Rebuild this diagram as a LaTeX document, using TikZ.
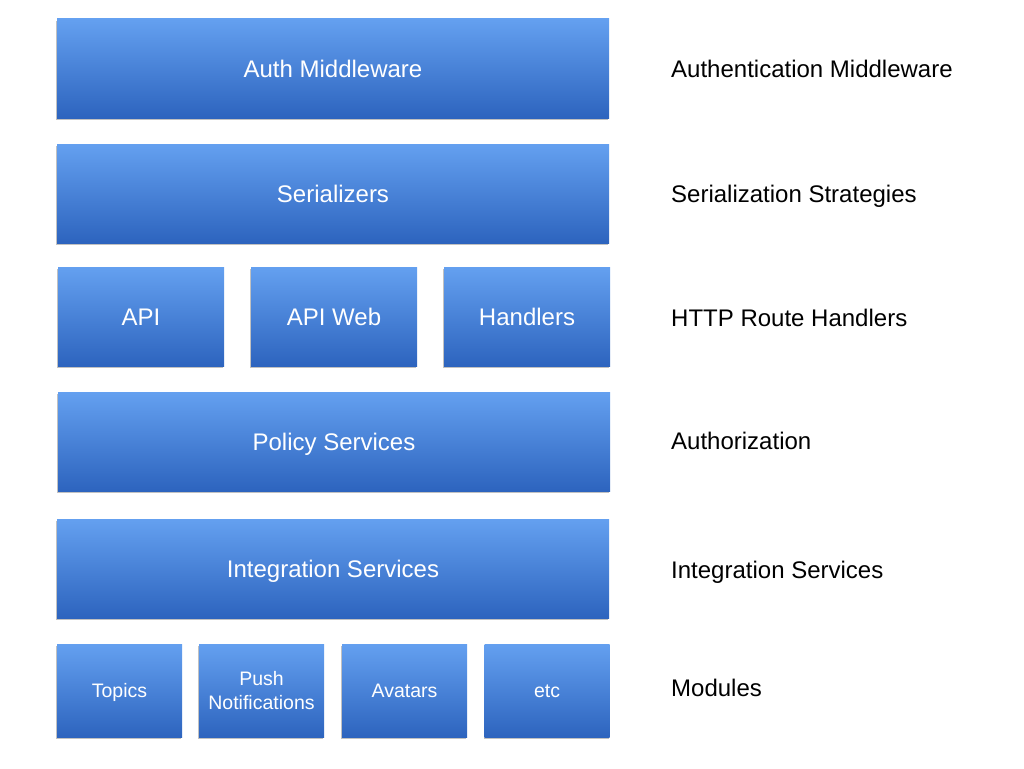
\documentclass[tikz,border=0pt]{standalone}
\usepackage{fontspec}
\setmainfont{Liberation Sans}
\usepackage{tikz}
\usetikzlibrary{shadows}
\definecolor{layertop}{RGB}{100,160,240}
\definecolor{layerbot}{RGB}{45,100,190}

\begin{document}
\begin{tikzpicture}[ x=1pt, y=-1pt, layer/.style={rectangle, top color=layertop,
      bottom color=layerbot, text=white, inner sep=0pt, minimum height=99pt,
      font=\fontsize{24pt}{28pt}\selectfont, drop shadow={shadow xshift=-1pt,
      shadow yshift=-2pt, opacity=0.35, fill=black!70}},
      capsmid/.style={text height=17.2pt, text depth=0pt},
      capssmall/.style={text height=14pt, text depth=0pt},
      wide/.style={layer, capsmid, minimum width=552pt},
      route/.style={layer, capsmid, minimum width=166pt},
      module/.style={layer, minimum width=125pt, minimum height=93pt,
      font=\fontsize{19.5pt}{24pt}\selectfont},
      sidelabel/.style={anchor=west, capsmid, inner sep=0pt, text=black,
      font=\fontsize{24pt}{28pt}\selectfont} ]
    \useasboundingbox (0,0) rectangle (1024,768);

    % Layers
    \node[wide] (auth) at (333,68.5) {Auth Middleware};
    \node[wide] (serial) at (333,193.5) {Serializers};
    \node[route] (api) at (141,316.5) {API}; \node[route] (apiweb) at
    (334,316.5) {API Web}; \node[route] (handlers) at (527,316.5) {Handlers};
    \node[wide] (policy) at (334,441.5) {Policy Services};
    \node[wide] (integration) at (333,568.5) {Integration Services};

    % Modules
    \node[module, capssmall] (topics) at (119.5,690.5) {Topics};
    \node[module, align=center] (push) at (261.5,690.5) {Push\\Notifications};
    \node[module, capssmall] (avatars) at (404.5,690.5) {Avatars};
    \node[module, capssmall] (etc) at (547,690.5) {etc};

    % Labels on the right
    \node[sidelabel] (lauth) at (671,69) {Authentication Middleware};
    \node[sidelabel] (lserial) at (671,194) {Serialization Strategies};
    \node[sidelabel] (lroute) at (671,318) {HTTP Route Handlers};
    \node[sidelabel] (lpolicy) at (671,441) {Authorization};
    \node[sidelabel] (lintegration) at (671,570) {Integration Services};
    \node[sidelabel] (lmodules) at (671,688) {Modules};

\end{tikzpicture}
\end{document}
